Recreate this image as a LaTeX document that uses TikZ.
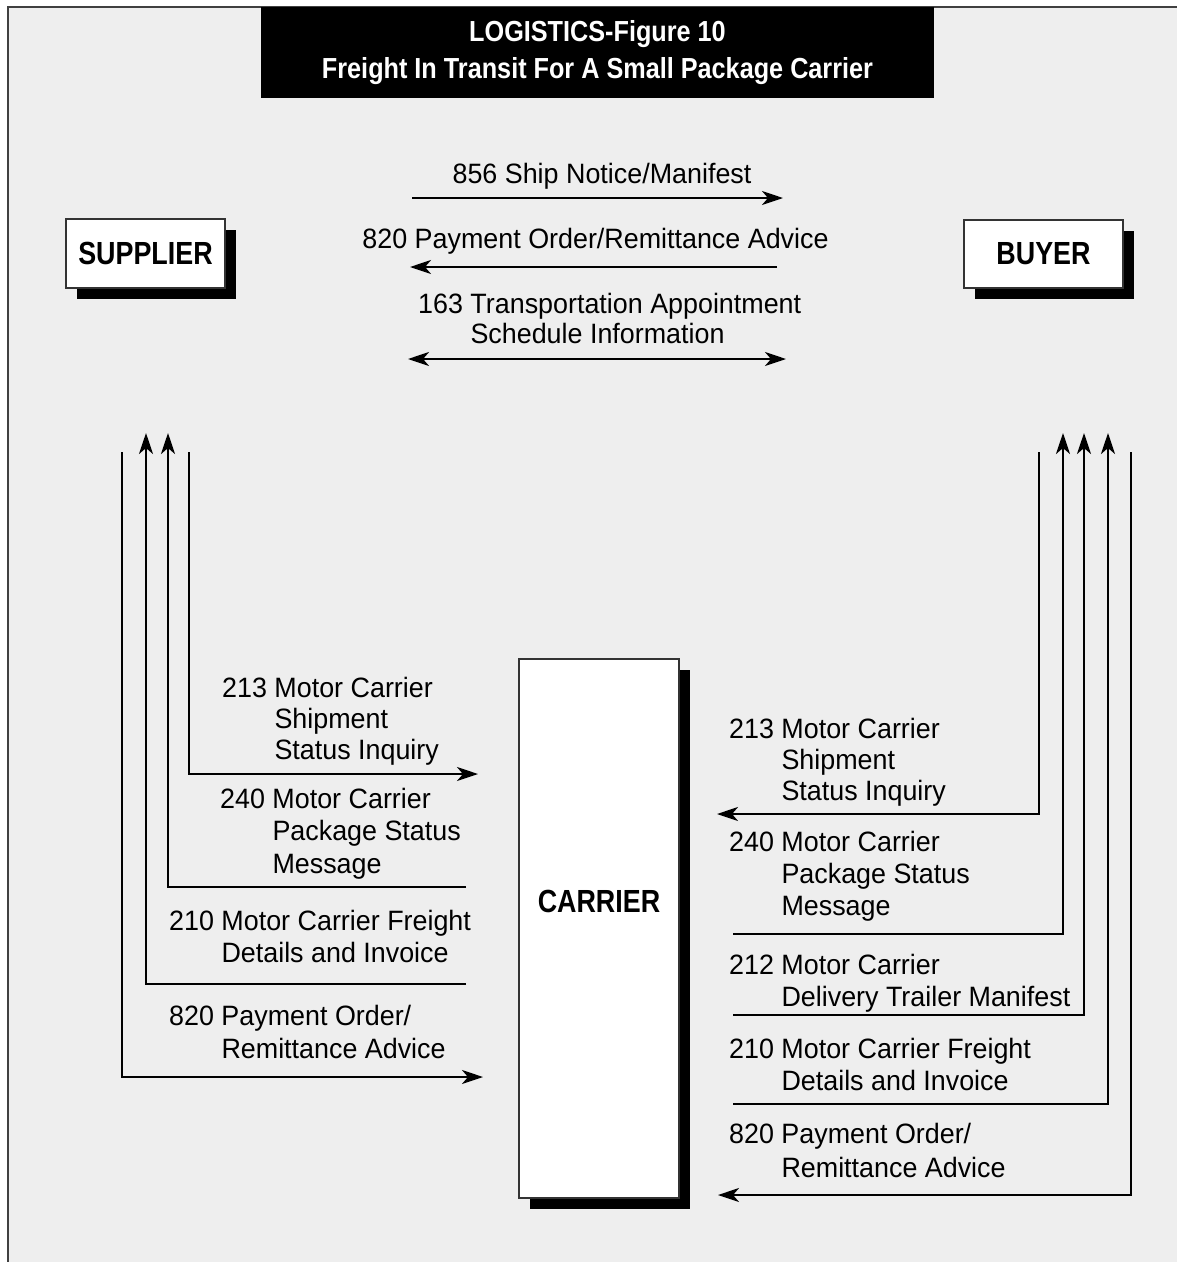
\documentclass[tikz,border=0pt]{standalone}
\usepackage{fontspec}
\setmainfont{Liberation Sans}[FakeStretch=0.96]
\newfontfamily\bcn{Liberation Sans}[FakeStretch=0.84]
\newfontfamily\tcn{Liberation Sans}[FakeStretch=0.87]
\usetikzlibrary{arrows.meta,shadows}
\definecolor{bg}{RGB}{238,238,238}
\newcommand\lab[3][1]{{\renewcommand\arraystretch{#1}\begin{tabular}[t]{@{}l@{\ }l@{}}#2 & #3\end{tabular}}}
\begin{document}
\begin{tikzpicture}[x=1pt,y=-1pt,
  conn/.style={line width=2.6pt},
  arr/.style={conn,-{Stealth[length=21pt,width=14pt,inset=6pt]}},
  darr/.style={conn,{Stealth[length=21pt,width=14pt,inset=6pt]}-{Stealth[length=21pt,width=14pt,inset=6pt]}},
  ent/.style={draw=black!80,line width=1.2pt,fill=white,inner sep=0pt,
    drop shadow={shadow xshift=11pt,shadow yshift=-11pt,fill=black,opacity=1},
    font=\bcn\bfseries\fontsize{32}{36}\selectfont},
  lbl/.style={inner sep=0pt,anchor=base west,font=\fontsize{28}{32}\selectfont},
  tlbl/.style={inner sep=0pt,anchor=base,font=\fontsize{28}{32}\selectfont}]
\useasboundingbox (0,0) rectangle (1177,1262);
\fill[white] (-10,-10) rectangle (1190,1275);
\fill[bg] (8,7) rectangle (1190,1275);
\draw[line width=1.5pt,black!75] (8,1275) -- (8,7) -- (1190,7);

% title
\node[fill=black,text=white,minimum width=673pt,minimum height=91pt,inner sep=0pt,align=center,
  font=\tcn\bfseries\fontsize{29}{37}\selectfont] (title) at (597.5,52.5)
  {LOGISTICS-Figure 10\\Freight In Transit For A Small Package Carrier};

% entities
\node[ent,minimum width=159pt,minimum height=69pt] (sup) at (145.5,253.5) {SUPPLIER};
\node[ent,minimum width=159pt,minimum height=68pt] (buy) at (1043.5,254) {BUYER};
\node[ent,minimum width=160pt,minimum height=539pt,
  label={[font=\bcn\bfseries\fontsize{32}{36}\selectfont,yshift=27pt]center:CARRIER}] (car) at (599,928.5) {};

% top exchanges supplier <-> buyer
\coordinate (s856) at (412,198); \coordinate (e856) at (783,198);
\draw[arr] (s856) -- (e856);
\node[tlbl] (t856) at (602,183) {856 Ship Notice/Manifest};
\coordinate (s820) at (777,267); \coordinate (e820) at (410,267);
\draw[arr] (s820) -- (e820);
\node[tlbl] (t820) at (595.5,248) {820 Payment Order/Remittance Advice};
\coordinate (s163) at (408,359); \coordinate (e163) at (786,359);
\draw[darr] (s163) -- (e163);
\node[lbl] (t163) at (418,313) {\lab[0.94]{163}{Transportation Appointment\\ & Schedule Information}};

% left side supplier <-> carrier
\coordinate (l213a) at (189,452); \coordinate (l213b) at (478,774);
\draw[arr] (l213a) |- (l213b);
\node[lbl] (tl213) at (222,697) {\lab[0.97]{213}{Motor Carrier\\ & Shipment\\ & Status Inquiry}};
\coordinate (l240a) at (466,887); \coordinate (l240b) at (168,433);
\draw[arr] (l240a) -| (l240b);
\node[lbl] (tl240) at (220,808) {\lab[1.02]{240}{Motor Carrier\\ & Package Status\\ & Message}};
\coordinate (l210a) at (466,984); \coordinate (l210b) at (146,433);
\draw[arr] (l210a) -| (l210b);
\node[lbl] (tl210) at (169,930) {\lab[1.03]{210}{Motor Carrier Freight\\ & Details and Invoice}};
\coordinate (l820a) at (122,452); \coordinate (l820b) at (483,1077);
\draw[arr] (l820a) |- (l820b);
\node[lbl] (tl820) at (169,1025) {\lab[1.06]{820}{Payment Order/\\ & Remittance Advice}};

% right side buyer <-> carrier
\coordinate (r213a) at (1039,452); \coordinate (r213b) at (717,814);
\draw[arr] (r213a) |- (r213b);
\node[lbl] (tr213) at (729,738) {\lab[0.97]{213}{Motor Carrier\\ & Shipment\\ & Status Inquiry}};
\coordinate (r240a) at (733,934); \coordinate (r240b) at (1063,433);
\draw[arr] (r240a) -| (r240b);
\node[lbl] (tr240) at (729,851) {\lab[1.0]{240}{Motor Carrier\\ & Package Status\\ & Message}};
\coordinate (r212a) at (733,1015); \coordinate (r212b) at (1084,433);
\draw[arr] (r212a) -| (r212b);
\node[lbl] (tr212) at (729,974) {\lab[1.0]{212}{Motor Carrier\\ & Delivery Trailer Manifest}};
\coordinate (r210a) at (733,1104); \coordinate (r210b) at (1108,433);
\draw[arr] (r210a) -| (r210b);
\node[lbl] (tr210) at (729,1058) {\lab[1.03]{210}{Motor Carrier Freight\\ & Details and Invoice}};
\coordinate (r820a) at (1131,452); \coordinate (r820b) at (718,1195);
\draw[arr] (r820a) |- (r820b);
\node[lbl] (tr820) at (729,1143) {\lab[1.09]{820}{Payment Order/\\ & Remittance Advice}};
\end{tikzpicture}
\end{document}
